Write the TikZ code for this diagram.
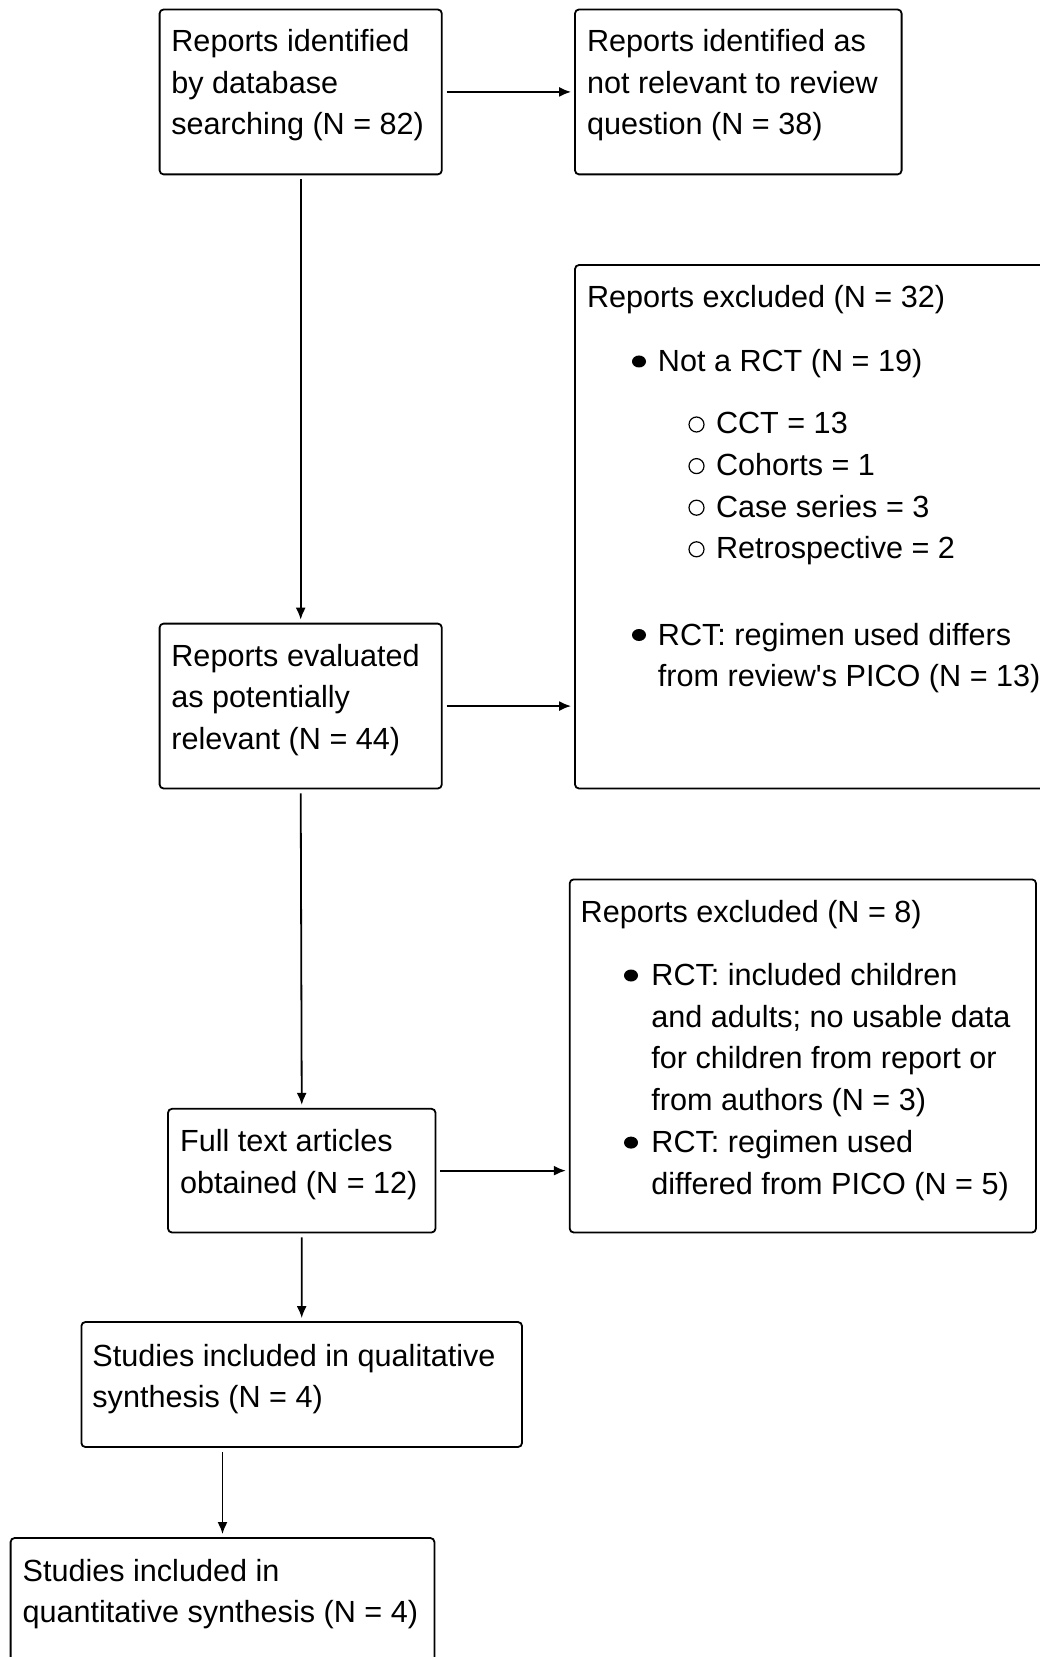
\documentclass[tikz,border=0pt]{standalone}
\usepackage{fontspec}
\setmainfont{Liberation Sans}
\usetikzlibrary{arrows.meta,fit,shapes.geometric}
\begin{document}
\begin{tikzpicture}[x=0.5pt,y=-0.5pt,
  box/.style={draw, line width=0.9pt, rounded corners=2pt, inner sep=0pt},
  txt/.style={anchor=base west, align=left, inner sep=0pt, font=\fontsize{15.3}{20.8}\selectfont},
  arr/.style={-{Latex[length=6pt,width=5pt]}, line width=0.9pt, shorten <=2pt, shorten >=1.5pt},
  fbul/.style={ellipse, fill, inner sep=0pt, minimum width=7pt, minimum height=6pt},
  hbul/.style={circle, draw, line width=0.6pt, inner sep=0pt, minimum size=7.5pt}]
\useasboundingbox[fill=white] (0,0) rectangle (1039,1657);
% boxes
\node[box, fit={(159.6,9.5) (441.8,174.4)}] (A) {};
\node[box, fit={(575,9.5) (901.6,174.4)}] (B) {};
\node[box, fit={(575,265) (1060,788.5)}] (C) {};
\node[box, fit={(159.6,623.6) (441.8,788.5)}] (D) {};
\node[box, fit={(569.7,879.4) (1036,1232.5)}] (E) {};
\node[box, fit={(168,1108.8) (435.5,1232.5)}] (F) {};
\node[box, fit={(81.4,1322) (522,1447)}] (G) {};
\node[box, fit={(10.6,1538) (434.4,1680)}] (H) {};
% texts (anchored at the baseline of their last line)
\node[txt] (At) at (171,134.7) {Reports identified\\by database\\searching (N = 82)};
\node[txt] (Bt) at (586.6,134.7) {Reports identified as\\not relevant to review\\question (N = 38)};
\node[txt] (Ct) at (586.6,308) {Reports excluded (N = 32)};
\node[fbul] (Cb1) at (639,361.5) {};
\node[txt] (Ct1) at (657.5,371.5) {Not a RCT (N = 19)};
\node[hbul] (Ch1) at (696.5,424.5) {};
\node[hbul] (Ch2) at (696.5,466.1) {};
\node[hbul] (Ch3) at (696.5,507.7) {};
\node[hbul] (Ch4) at (696.5,549.3) {};
\node[txt] (Ct2) at (715.6,558.8) {CCT = 13\\Cohorts = 1\\Case series = 3\\Retrospective = 2};
\node[fbul] (Cb2) at (639,635) {};
\node[txt] (Ct3) at (657.5,686.6) {RCT: regimen used differs\\from review\textquotesingle s PICO (N = 13)};
\node[txt] (Dt) at (171,749.2) {Reports evaluated\\as potentially\\relevant (N = 44)};
\node[txt] (Et) at (580.3,922) {Reports excluded (N = 8)};
\node[fbul] (Eb1) at (631,975.5) {};
\node[txt] (Et1) at (651,1110.3) {RCT: included children\\and adults; no usable data\\for children from report or\\from authors (N = 3)};
\node[fbul] (Eb2) at (631,1142.6) {};
\node[txt] (Et2) at (651,1194.2) {RCT: regimen used\\differed from PICO (N = 5)};
\node[txt] (Ft) at (179.7,1193.1) {Full text articles\\obtained (N = 12)};
\node[txt] (Gt) at (92,1407.6) {Studies included in qualitative\\synthesis (N = 4)};
\node[txt] (Ht) at (22.2,1622.6) {Studies included in\\quantitative synthesis (N = 4)};
% connectors
\draw[arr] (A.east) -- (A.east -| B.west);
\draw[arr] (A.south) -- (D.north);
\draw[arr] (D.east) -- (D.east -| C.west);
\draw[arr] (D.south) -- (F.north);
\draw[arr] (F.east) -- (F.east -| E.west);
\draw[arr] (F.south) -- (G.north);
\draw[arr] (G.south -| H.north) -- (H.north);
\end{tikzpicture}
\end{document}
